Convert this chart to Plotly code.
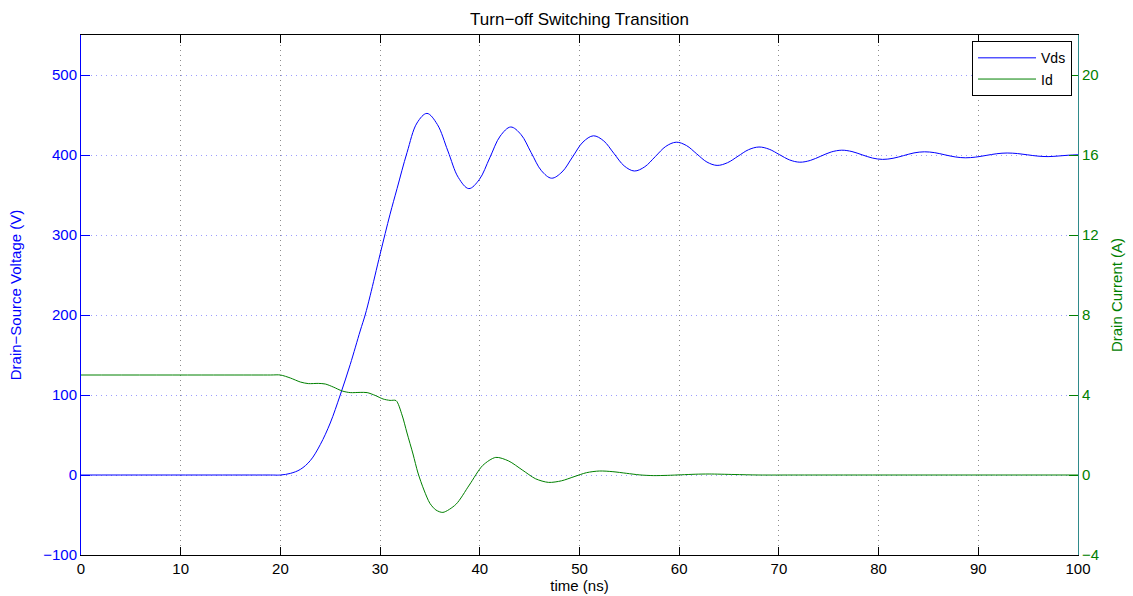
import plotly.graph_objects as go

# Drain-source voltage (V) vs time (ns)
t_vds = [0, 19, 20, 21, 22, 23, 24, 25, 26, 27, 28, 28.5, 29, 30, 31, 31.7, 32.7, 33.7,
         34.7, 35.74, 36.8, 37.85, 38.9, 39.95, 41.0, 42.05, 43.1, 44.13, 45.15, 46.18,
         47.2, 48.25, 49.3, 50.35, 51.4, 52.43, 53.45, 54.48, 55.5, 56.55, 57.6, 58.65,
         59.7, 60.73, 61.75, 62.78, 63.8, 64.85, 65.9, 66.95, 68.0, 69.03, 70.05, 71.08,
         72.1, 73.15, 74.2, 75.25, 76.3, 77.33, 78.35, 79.38, 80.4, 81.45, 82.5, 83.55,
         84.6, 85.63, 86.65, 87.68, 88.7, 89.75, 90.8, 91.85, 92.9, 93.93, 94.95, 95.98,
         97.0, 98.0, 99.0, 100]
vds = [0, 0, 0, 2, 7, 18, 38, 65, 100, 138, 180, 200, 224, 276, 326, 358, 403, 440,
       452, 438.2, 405, 371.8, 358, 369.3, 396.5, 423.7, 435, 425.6, 403, 380.4,
       371, 378.8, 397.5, 416.2, 424, 417.6, 402, 386.4, 380, 385.3, 398, 410.7,
       416, 411.8, 401.5, 391.2, 387, 390.4, 398.5, 406.6, 410, 407.2, 400.5, 393.8,
       391, 393.2, 398.5, 403.8, 406, 404.3, 400.2, 396.2, 394.5, 395.9, 399.2, 402.6,
       404, 402.9, 400.2, 397.6, 396.5, 397.4, 399.5, 401.6, 402.5, 401.8, 400.2, 398.6,
       398, 398.7, 399.7, 400.3]

# Drain current (A) vs time (ns)
t_id = [0, 19, 20, 21, 22, 22.8, 23.8, 24.5, 25.3, 26.2, 27, 28, 28.7, 29.5, 30.3,
        31.0, 31.6, 32.2, 32.7, 33.3, 33.8, 34.4, 35.0, 35.6, 36.3, 37.6, 38.95,
        40.3, 41.6, 42.9, 44.25, 45.6, 46.9, 48.2, 49.45, 50.7, 52.0, 53.35, 54.7,
        56.05, 57.4, 58.8, 60.2, 61.6, 63.0, 65.5, 68.0, 72.0, 100]
id_a = [5.0, 5.0, 5.0, 4.85, 4.65, 4.57, 4.58, 4.55, 4.4, 4.2, 4.12, 4.13, 4.12, 3.98, 3.8,
        3.73, 3.72, 3.0, 2.1, 1.05, 0.1, -0.75, -1.42, -1.75, -1.87, -1.47, -0.5,
        0.48, 0.88, 0.70, 0.255, -0.19, -0.37, -0.29, -0.085, 0.116, 0.2, 0.166, 0.085,
        0.004, -0.03, -0.018, 0.01, 0.038, 0.05, 0.025, 0.0, 0.0, 0.0]

x_ticks = [0, 10, 20, 30, 40, 50, 60, 70, 80, 90, 100]
v_ticks = [-100, 0, 100, 200, 300, 400, 500]
i_ticks = [-4, 0, 4, 8, 12, 16, 20]

BLUE = "#0000ff"
GREEN = "#008000"
FONT = "Liberation Sans, Arial, sans-serif"
DOTS = "1px,4px"

fig = go.Figure()
fig.add_trace(go.Scatter(x=t_vds, y=vds, name="Vds", mode="lines",
                         line=dict(color=BLUE, width=1, shape="spline", smoothing=1.0)))
fig.add_trace(go.Scatter(x=t_id, y=id_a, name="Id", mode="lines", yaxis="y2",
                         line=dict(color=GREEN, width=1, shape="spline", smoothing=0.8)))

fig.update_layout(
    width=1133, height=596,
    margin=dict(l=81, r=55, t=35, b=41),
    paper_bgcolor="white", plot_bgcolor="white",
    font=dict(family=FONT, size=14, color="black"),
    title=dict(text="Turn−off Switching Transition", x=0.5, xanchor="center",
               xref="paper", y=0.968, yanchor="middle", font=dict(size=17, color="black")),
    xaxis=dict(range=[0, 100], tickvals=x_ticks, ticks="inside", ticklen=8,
               tickcolor="black", showline=True, linecolor="black", linewidth=1,
               mirror="ticks", showgrid=True, gridcolor="#8c8c8c", griddash=DOTS,
               gridwidth=1, zeroline=False, automargin=False,
               title=dict(text="time (ns)", standoff=4, font=dict(size=15)),
               tickfont=dict(size=15, color="black")),
    yaxis=dict(range=[-100, 550], tickvals=v_ticks, ticks="inside", ticklen=9,
               tickcolor=BLUE, showline=True, linecolor=BLUE, linewidth=1,
               showgrid=True, gridcolor="#9a9aff", griddash=DOTS, gridwidth=1,
               zeroline=False, automargin=False,
               title=dict(text="Drain−Source Voltage (V)", standoff=17,
                          font=dict(size=15, color=BLUE)),
               tickfont=dict(size=15, color=BLUE)),
    yaxis2=dict(range=[-4, 22], tickvals=i_ticks, overlaying="y", side="right",
                ticks="inside", ticklen=9, tickcolor=GREEN, showline=True,
                linecolor="#2f8a8a", linewidth=1, showgrid=False, zeroline=False,
                automargin=False,
                title=dict(text="Drain Current (A)", standoff=13,
                           font=dict(size=15, color=GREEN)),
                tickfont=dict(size=15, color=GREEN)),
    legend=dict(x=0.994, y=0.988, xanchor="right", yanchor="top",
                bgcolor="white", bordercolor="black", borderwidth=1,
                font=dict(size=14, color="black"), tracegroupgap=0,
                itemwidth=58),
    showlegend=True,
)

fig.write_html("out.html")
